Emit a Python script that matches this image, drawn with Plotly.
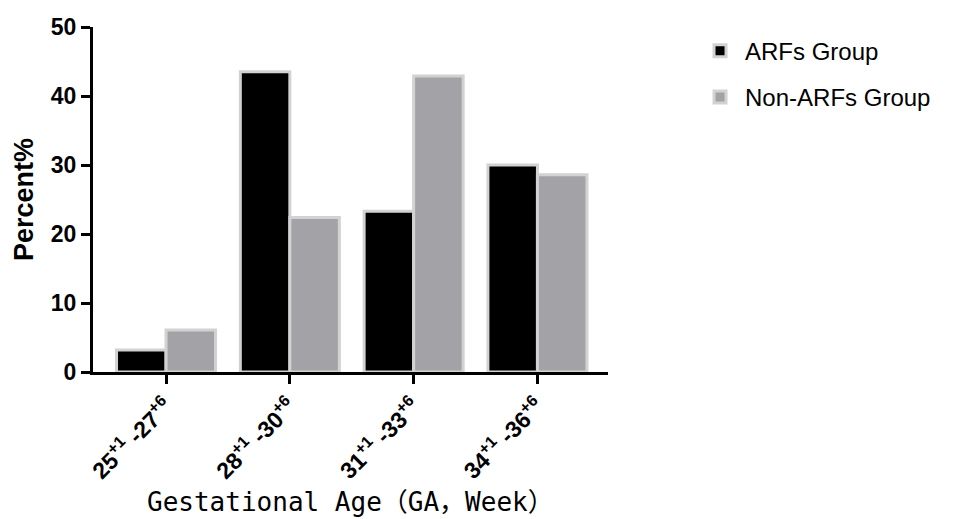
import plotly.graph_objects as go

categories = ["25<sup>+1</sup> -27<sup>+6</sup>", "28<sup>+1</sup> -30<sup>+6</sup>",
              "31<sup>+1</sup> -33<sup>+6</sup>", "34<sup>+1</sup> -36<sup>+6</sup>"]
arfs = [3.2, 43.5, 23.3, 30.0]
non_arfs = [6.1, 22.4, 42.9, 28.6]
series_names = ["ARFs Group", "Non-ARFs Group"]
y_ticks = [0, 10, 20, 30, 40, 50]
x_title = "Gestational Age（GA，Week）"

x = list(range(len(categories)))

fig = go.Figure()
fig.add_trace(go.Bar(x=x, y=arfs, name=series_names[0], legendgroup="a",
                     marker=dict(color="#000000", line=dict(color="#d2d2d2", width=3))))
fig.add_trace(go.Bar(x=x, y=non_arfs, name=series_names[1], legendgroup="b",
                     marker=dict(color="#a3a3a7", line=dict(color="#d2d2d2", width=3))))

fig.update_layout(
    width=966, height=519,
    margin=dict(l=85, r=366, t=19, b=155, autoexpand=False),
    paper_bgcolor="white", plot_bgcolor="white",
    barmode="group", bargap=0.2, bargroupgap=0,
    font=dict(family="Liberation Sans, Arial", color="black"),
    showlegend=True,
    legend=dict(x=1.169, y=0.995, xanchor="left", yanchor="top",
                font=dict(size=24, family="Liberation Sans, Arial"),
                traceorder="grouped", tracegroupgap=12, itemwidth=40,
                bgcolor="rgba(0,0,0,0)"),
    annotations=[dict(text=x_title, xref="paper", yref="paper",
                      x=0.5, y=-0.377, xanchor="center", yanchor="middle",
                      showarrow=False,
                      font=dict(size=26, family="DejaVu Sans Mono, Noto Sans CJK SC", color="black"))],
)
fig.update_xaxes(
    range=[-0.59, 3.57],
    tickmode="array", tickvals=x, ticktext=categories,
    tickangle=-45, automargin=False,
    tickfont=dict(size=23, family="Liberation Sans, Arial", weight="bold"),
    showline=True, linecolor="black", linewidth=3,
    ticks="outside", ticklen=9, tickwidth=3, tickcolor="black",
    showgrid=False, zeroline=False,
)
fig.update_yaxes(
    range=[0, 50], automargin=False,
    tickmode="array", tickvals=y_ticks,
    tickfont=dict(size=23, family="Liberation Sans, Arial", weight="bold"),
    showline=True, linecolor="black", linewidth=3,
    ticks="outside", ticklen=9, tickwidth=3, tickcolor="black",
    showgrid=False, zeroline=False,
    title=dict(text="Percent%", font=dict(size=27, family="Liberation Sans, Arial", weight="bold"),
               standoff=10),
)

fig.write_html("out.html")
